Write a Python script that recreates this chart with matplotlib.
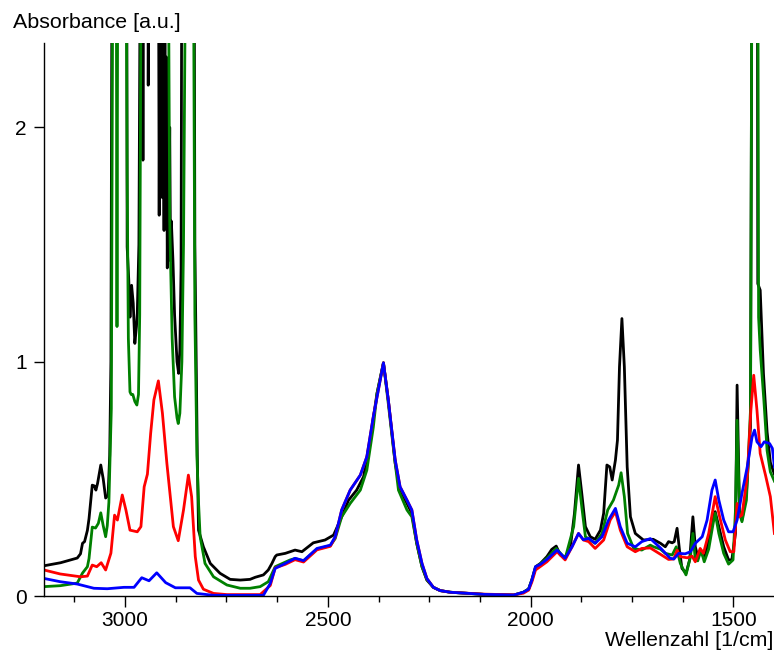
import matplotlib
matplotlib.use("Agg")
import matplotlib.pyplot as plt
from matplotlib.ticker import MultipleLocator

plt.rcParams['font.family'] = ['Liberation Sans', 'DejaVu Sans']

# ---- data (wavenumber [1/cm], absorbance [a.u.]); 3.0 = saturated (off scale)
black_w = [3200, 3159, 3118, 3110, 3105, 3100, 3093, 3089, 3081, 3076, 3072, 3068, 3060, 3054, 3048,
           3042, 3038, 3035, 3032, 2996, 2995, 2991, 2988, 2984, 2980, 2976, 2972, 2970, 2966, 2962,
           2957, 2956, 2955, 2944, 2943, 2941, 2918, 2916, 2914, 2912, 2910, 2908, 2906, 2904, 2902,
           2900, 2898, 2896, 2894, 2892, 2890, 2888, 2886, 2882, 2878, 2872, 2868, 2865, 2862, 2860,
           2830, 2828, 2822, 2819, 2807, 2790,
           2766, 2741, 2716, 2692, 2679, 2659, 2647, 2638, 2630, 2626, 2605, 2581, 2564, 2536, 2507,
           2486, 2466, 2449, 2429, 2412, 2396, 2379, 2363, 2351, 2334, 2322, 2305, 2293, 2281, 2268,
           2256, 2240, 2223, 2198, 2116, 2042, 2018, 2005, 1997, 1988, 1976, 1960, 1948, 1937, 1927,
           1915, 1902, 1892, 1882, 1874, 1865, 1853, 1841, 1828, 1820, 1812, 1805, 1799, 1791, 1786,
           1781, 1775, 1769, 1762, 1754, 1742, 1722, 1698, 1680, 1668, 1660, 1651, 1646, 1639, 1633,
           1627, 1617, 1608, 1600, 1594, 1588, 1580, 1572, 1561, 1550, 1545, 1536, 1524, 1512, 1504,
           1495, 1491, 1485, 1479, 1468, 1458, 1454, 1441, 1440, 1434, 1426, 1417, 1409, 1403, 1399]
black_a = [0.129, 0.142, 0.162, 0.180, 0.225, 0.232, 0.28, 0.33, 0.473, 0.47, 0.452, 0.48, 0.559, 0.50, 0.418,
           0.43, 0.6, 1.0, 3.0, 3.0, 1.49, 1.35, 1.19, 1.326, 1.25, 1.078, 1.15, 1.206, 1.5, 3.0,
           3.0, 1.86, 3.0, 3.0, 2.18, 3.0, 3.0, 1.625, 2.6, 1.9, 2.4, 1.7, 2.2, 1.56, 2.5,
           1.8, 2.3, 1.40, 2.1, 1.6, 2.0, 1.43, 1.6, 1.43, 1.2, 1.0, 0.95, 1.05, 1.4, 3.0,
           3.0, 1.5, 0.6, 0.281, 0.21, 0.139,
           0.097, 0.071, 0.068, 0.071, 0.08, 0.09, 0.111, 0.139, 0.168, 0.175, 0.182, 0.196, 0.189, 0.227, 0.239,
           0.26, 0.338, 0.409, 0.452, 0.509, 0.665, 0.864, 0.995, 0.836, 0.566, 0.452, 0.395, 0.353, 0.225, 0.125,
           0.068, 0.037, 0.023, 0.016, 0.007, 0.004, 0.016, 0.03, 0.07, 0.125, 0.139, 0.168, 0.199, 0.213, 0.175,
           0.165, 0.21, 0.353, 0.559, 0.438, 0.296, 0.253, 0.242, 0.281, 0.353, 0.559, 0.551, 0.495, 0.58, 0.665,
           0.978, 1.184, 0.978, 0.551, 0.338, 0.267, 0.239, 0.242, 0.225, 0.21, 0.232, 0.227, 0.232, 0.289, 0.196,
           0.118, 0.097, 0.154, 0.338, 0.21, 0.168, 0.189, 0.161, 0.239, 0.338, 0.36, 0.296, 0.21, 0.154, 0.154,
           0.267, 0.90, 0.367, 0.324, 0.438, 0.722, 3.0, 3.0, 1.333, 1.305, 0.95, 0.70, 0.57, 0.54, 0.52]

green_w = [3200, 3160, 3118, 3105, 3093, 3089, 3081, 3073, 3066, 3060, 3054, 3048, 3044, 3040, 3034,
           3030, 3022, 3020, 3018, 2998, 2995, 2992, 2988, 2985, 2981, 2976, 2971, 2967, 2964, 2960,
           2894, 2890, 2884, 2878, 2872, 2869, 2865, 2860, 2856, 2850, 2832, 2828, 2823, 2819, 2815,
           2803, 2782, 2749, 2716, 2692, 2667, 2647, 2630, 2593, 2581, 2560, 2527, 2494, 2482, 2466,
           2445, 2420, 2404, 2388, 2379, 2363, 2351, 2338, 2326, 2305, 2293, 2281, 2268, 2256, 2240,
           2223, 2198, 2116, 2042, 2018, 2005, 1997, 1988, 1960, 1937, 1915, 1894, 1882, 1874, 1865,
           1853, 1841, 1824, 1810, 1796, 1783, 1777, 1769, 1761, 1746, 1726, 1705, 1697, 1680, 1668,
           1651, 1641, 1631, 1617, 1606, 1600, 1594, 1588, 1580, 1572, 1561, 1550, 1545, 1536, 1524,
           1512, 1501, 1495, 1491, 1485, 1479, 1468, 1458, 1454, 1440, 1438, 1434, 1425, 1417, 1409,
           1399]
green_a = [0.040, 0.044, 0.055, 0.098, 0.125, 0.16, 0.294, 0.29, 0.31, 0.355, 0.30, 0.253, 0.30, 0.40, 0.8,
           3.0, 3.0, 1.15, 3.0, 3.0, 1.8, 1.1, 0.871, 0.86, 0.86, 0.83, 0.815, 0.86, 1.2, 3.0,
           3.0, 1.6, 1.1, 0.85, 0.76, 0.736, 0.78, 1.0, 1.5, 3.0, 3.0, 1.2, 0.6, 0.4, 0.253,
           0.139, 0.082, 0.047, 0.033, 0.033, 0.04, 0.061, 0.125, 0.154, 0.16, 0.15, 0.20, 0.215, 0.245, 0.338,
           0.395, 0.452, 0.537, 0.72, 0.864, 0.995, 0.82, 0.623, 0.452, 0.367, 0.338, 0.225, 0.125, 0.07, 0.037,
           0.023, 0.016, 0.007, 0.004, 0.016, 0.03, 0.068, 0.12, 0.161, 0.203, 0.16, 0.296, 0.502, 0.381, 0.253,
           0.239, 0.225, 0.267, 0.367, 0.409, 0.473, 0.526, 0.424, 0.267, 0.203, 0.196, 0.217, 0.21, 0.20, 0.182,
           0.175, 0.21, 0.139, 0.09, 0.168, 0.267, 0.154, 0.150, 0.196, 0.146, 0.2, 0.31, 0.353, 0.267, 0.182,
           0.136, 0.154, 0.367, 0.75, 0.353, 0.317, 0.409, 0.793, 3.0, 3.0, 1.19, 1.05, 0.836, 0.62, 0.53,
           0.49]

red_w = [3200, 3160, 3110, 3093, 3081, 3070, 3059, 3048, 3035, 3026, 3019, 3007, 2998, 2988, 2970,
         2961, 2953, 2945, 2937, 2929, 2918, 2908, 2897, 2881, 2869, 2856, 2844, 2836, 2827, 2819,
         2807, 2782, 2749, 2667, 2642, 2630, 2605, 2581, 2560, 2527, 2494, 2482, 2466, 2445, 2420,
         2404, 2388, 2363, 2351, 2334, 2322, 2305, 2293, 2281, 2268, 2256, 2240, 2223, 2198, 2116,
         2042, 2018, 2005, 1997, 1988, 1960, 1935, 1915, 1898, 1882, 1870, 1857, 1841, 1820, 1804,
         1791, 1779, 1762, 1742, 1726, 1705, 1680, 1660, 1647, 1639, 1631, 1614, 1602, 1594, 1582,
         1574, 1561, 1545, 1534, 1520, 1508, 1499, 1491, 1485, 1479, 1466, 1457, 1450, 1442, 1434,
         1421, 1409, 1399]
red_a = [0.111, 0.094, 0.082, 0.085, 0.132, 0.125, 0.142, 0.111, 0.183, 0.345, 0.324, 0.431, 0.367, 0.281, 0.274,
         0.296, 0.466, 0.52, 0.694, 0.837, 0.918, 0.78, 0.566, 0.296, 0.236, 0.367, 0.516, 0.424, 0.168, 0.068,
         0.029, 0.011, 0.006, 0.006, 0.045, 0.12, 0.135, 0.155, 0.145, 0.197, 0.212, 0.25, 0.367, 0.452, 0.516,
         0.594, 0.765, 0.995, 0.836, 0.58, 0.466, 0.409, 0.367, 0.239, 0.139, 0.075, 0.037, 0.023, 0.016, 0.008,
         0.005, 0.012, 0.025, 0.06, 0.111, 0.146, 0.189, 0.154, 0.21, 0.267, 0.239, 0.232, 0.203, 0.239, 0.324,
         0.36, 0.281, 0.21, 0.189, 0.203, 0.205, 0.178, 0.156, 0.158, 0.196, 0.168, 0.163, 0.17, 0.146, 0.203,
         0.182, 0.267, 0.424, 0.338, 0.239, 0.189, 0.189, 0.395, 0.338, 0.345, 0.509, 0.793, 0.942, 0.793, 0.608,
         0.516, 0.424, 0.267]

blue_w = [3200, 3160, 3118, 3077, 3044, 3003, 2978, 2959, 2941, 2922, 2900, 2876, 2840, 2823, 2783,
          2659, 2642, 2630, 2605, 2581, 2560, 2527, 2494, 2482, 2466, 2445, 2420, 2404, 2388, 2363,
          2351, 2334, 2322, 2305, 2293, 2281, 2268, 2256, 2240, 2223, 2198, 2116, 2042, 2018, 2005,
          1997, 1988, 1976, 1960, 1935, 1915, 1898, 1882, 1870, 1857, 1841, 1824, 1808, 1791, 1779,
          1762, 1742, 1726, 1705, 1680, 1656, 1647, 1635, 1619, 1606, 1594, 1577, 1565, 1553, 1545,
          1536, 1524, 1512, 1501, 1491, 1479, 1466, 1454, 1448, 1442, 1432, 1424, 1411, 1404, 1399]
blue_a = [0.075, 0.061, 0.051, 0.033, 0.031, 0.037, 0.037, 0.078, 0.065, 0.099, 0.057, 0.035, 0.035, 0.011, 0.003,
          0.003, 0.054, 0.118, 0.139, 0.161, 0.151, 0.203, 0.217, 0.253, 0.367, 0.452, 0.516, 0.594, 0.765, 0.995,
          0.836, 0.58, 0.466, 0.409, 0.367, 0.239, 0.139, 0.075, 0.037, 0.023, 0.016, 0.007, 0.004, 0.016, 0.029,
          0.068, 0.125, 0.135, 0.156, 0.196, 0.161, 0.21, 0.267, 0.24, 0.246, 0.225, 0.253, 0.324, 0.374, 0.296,
          0.225, 0.21, 0.232, 0.245, 0.205, 0.161, 0.158, 0.182, 0.180, 0.189, 0.225, 0.253, 0.324, 0.452, 0.495,
          0.409, 0.324, 0.274, 0.274, 0.324, 0.438, 0.551, 0.679, 0.708, 0.658, 0.637, 0.658, 0.651, 0.63, 0.551]

series = [(black_w, black_a, '#000000'),
          (green_w, green_a, '#008000'),
          (red_w, red_a, '#ff0000'),
          (blue_w, blue_a, '#0000ff')]

x_major = [3000, 2500, 2000, 1500]

# ---- figure
fig = plt.figure(figsize=(7.74, 6.54), dpi=100)
ax = fig.add_axes([44/774, 58/654, 730/774, 553/654])

for w, a, c in series:
    ax.plot(w, a, color=c, lw=2.0, solid_joinstyle='round')

ax.set_xlim(3200, 1400)
ax.set_ylim(0, 2.36)

ax.set_xticks(x_major)
ax.set_xticklabels([str(v) for v in x_major])
ax.xaxis.set_minor_locator(MultipleLocator(125))
ax.set_yticks([0, 1, 2])
ax.set_yticklabels(['0', '1', '2'])

for s in ['top', 'right']:
    ax.spines[s].set_visible(False)
for s in ['left', 'bottom']:
    ax.spines[s].set_linewidth(1.0)
    ax.spines[s].set_color('#000000')

ax.tick_params(axis='x', which='major', direction='out', length=8, width=1.0, pad=3, labelsize=15)
ax.tick_params(axis='x', which='minor', direction='out', length=4, width=1.0)
ax.tick_params(axis='y', which='major', direction='out', length=7.5, width=1.0, pad=5, labelsize=15)

fig.text(13/774, 1 - 23/654, 'Absorbance [a.u.]', ha='left', va='center', fontsize=15.4)
fig.text(773/774, 1 - 641/654, 'Wellenzahl [1/cm]', ha='right', va='center', fontsize=15.4)

fig.savefig('out.png', dpi=100)
